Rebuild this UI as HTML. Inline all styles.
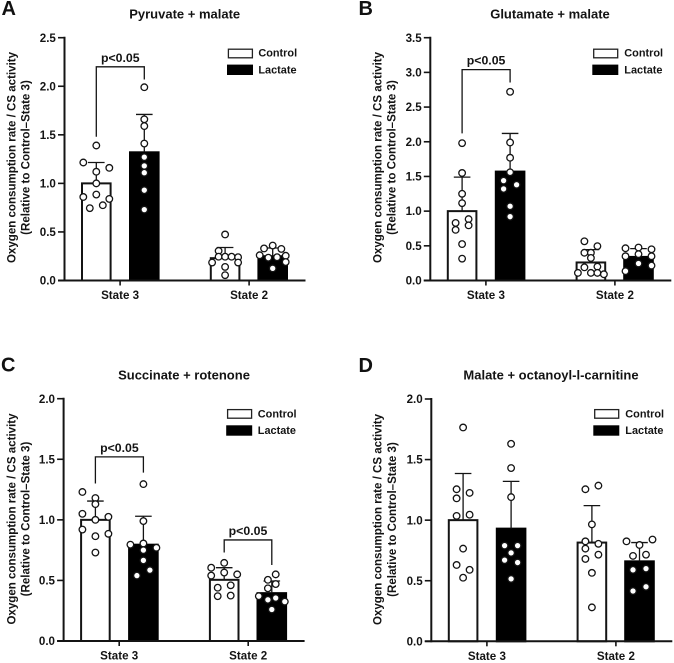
<!DOCTYPE html>
<html lang="en">
<head>
<meta charset="utf-8">
<title>Oxygen consumption rate panels</title>
<style>
html,body{margin:0;padding:0;background:#fff;width:674px;height:663px;overflow:hidden}
svg{display:block;filter:blur(0.35px)}
text{font-family:"Liberation Sans",sans-serif;font-weight:700;fill:#141414}
.letter{font-size:20px;fill:#111}
.title{font-size:13px;text-anchor:middle}
.ytitle{font-size:11.55px;text-anchor:middle}
.legend{font-size:10.9px}
.tick{font-size:11.6px;text-anchor:end}
.cat{font-size:11.6px;text-anchor:middle}
.sig{font-size:12.3px;text-anchor:middle}
</style>
</head>
<body>
<svg id="figure" width="674" height="663" viewBox="0 0 674 663" xmlns="http://www.w3.org/2000/svg">
  <g id="panel-a">
    <text class="letter" x="1.5" y="15">A</text>
    <text class="title" x="184.7" y="18.4">Pyruvate + malate</text>
    <text class="ytitle" transform="translate(15.7,157.5) rotate(-90)">Oxygen consumption rate / CS activity</text>
    <text class="ytitle" transform="translate(29.5,157.5) rotate(-90)">(Relative to Control–State 3)</text>
    <rect x="228.4" y="49.2" width="24" height="8.6" fill="#fff" stroke="#222" stroke-width="1.3"/>
    <text class="legend" x="258.4" y="56.6">Control</text>
    <rect x="227" y="64.6" width="26" height="10.4" fill="#000"/>
    <text class="legend" x="258.4" y="73.6">Lactate</text>
  </g>
  <g id="panel-b">
    <text class="letter" x="358.5" y="15">B</text>
    <text class="title" x="550" y="18.4">Glutamate + malate</text>
    <text class="ytitle" transform="translate(381.7,157.5) rotate(-90)">Oxygen consumption rate / CS activity</text>
    <text class="ytitle" transform="translate(395.5,157.5) rotate(-90)">(Relative to Control–State 3)</text>
    <rect x="593.7" y="49.2" width="24" height="8.6" fill="#fff" stroke="#222" stroke-width="1.3"/>
    <text class="legend" x="624.3" y="56.6">Control</text>
    <rect x="592.3" y="64.6" width="26" height="10.4" fill="#000"/>
    <text class="legend" x="624.3" y="73.6">Lactate</text>
  </g>
  <g id="panel-c">
    <text class="letter" x="1" y="371.7">C</text>
    <text class="title" x="184" y="379.4">Succinate + rotenone</text>
    <text class="ytitle" transform="translate(15.7,519) rotate(-90)">Oxygen consumption rate / CS activity</text>
    <text class="ytitle" transform="translate(29.5,519) rotate(-90)">(Relative to Control–State 3)</text>
    <rect x="227.6" y="409.6" width="24" height="8.6" fill="#fff" stroke="#222" stroke-width="1.3"/>
    <text class="legend" x="257.8" y="417.4">Control</text>
    <rect x="226.2" y="425.3" width="26" height="10.4" fill="#000"/>
    <text class="legend" x="257.8" y="434.2">Lactate</text>
  </g>
  <g id="panel-d">
    <text class="letter" x="358.5" y="372">D</text>
    <text class="title" x="551" y="379.4">Malate + octanoyl-l-carnitine</text>
    <text class="ytitle" transform="translate(381.7,519.5) rotate(-90)">Oxygen consumption rate / CS activity</text>
    <text class="ytitle" transform="translate(396,519.5) rotate(-90)">(Relative to Control–State 3)</text>
    <rect x="594.7" y="409.6" width="24" height="8.6" fill="#fff" stroke="#222" stroke-width="1.3"/>
    <text class="legend" x="625.3" y="417.4">Control</text>
    <rect x="593.3" y="425.3" width="26" height="10.4" fill="#000"/>
    <text class="legend" x="625.3" y="434.2">Lactate</text>
  </g>
</svg>
<script>
// Shared categories and tick labels
const categories = ['State 3', 'State 2'];
const groups = ['control', 'lactate'];
const ticksA = ['0.0', '0.5', '1.0', '1.5', '2.0', '2.5'];
const ticksB = ['0.0', '0.5', '1.0', '1.5', '2.0', '2.5', '3.0', '3.5'];
const ticksC = ['0.0', '0.5', '1.0', '1.5', '2.0'];
const ticksD = ['0.0', '0.5', '1.0', '1.5', '2.0'];

// Bar heights and upper error-bar values, in the order
// State 3 control, State 3 lactate, State 2 control, State 2 lactate
const meansA = [1.0, 1.32, 0.23, 0.25];
const errorTopsA = [1.215, 1.71, 0.34, 0.335];
const meansB = [1.0, 1.57, 0.26, 0.34];
const errorTopsB = [1.49, 2.12, 0.445, 0.46];
const meansC = [1.0, 0.795, 0.505, 0.395];
const errorTopsC = [1.155, 1.03, 0.605, 0.495];
const meansD = [1.0, 0.93, 0.815, 0.66];
const errorTopsD = [1.385, 1.32, 1.12, 0.815];

// Individual measurements, with the swarm column each one sits in
const pointsA1 = [1.39, 1.215, 1.16, 1.12, 1.0, 0.885, 0.86, 0.84, 0.775, 0.745];
const columnsA1 = [0, -2, 2, 0, 0, 0, -2, 2, 1, -1];
const pointsA2 = [1.99, 1.66, 1.59, 1.41, 1.27, 1.18, 1.11, 0.93, 0.73];
const columnsA2 = [0, 0, 0, 0, 0, 0, 0, 0, 0];
const pointsA3 = [0.474, 0.305, 0.245, 0.245, 0.245, 0.24, 0.185, 0.185, 0.14, 0.055];
const columnsA3 = [0, -1, -1, 0, 1, 2, -2, 2, 0, 0];
const pointsA4 = [0.36, 0.33, 0.325, 0.26, 0.255, 0.235, 0.24, 0.19, 0.125];
const columnsA4 = [0, -1.33, 1.33, -2, 2, -0.67, 0.67, 2, 0];

const pointsB1 = [1.98, 1.55, 1.25, 1.115, 0.885, 0.83, 0.795, 0.73, 0.525, 0.315];
const columnsB1 = [0, 0, 0, 0, 1, -1, 1, -1, 0, 0];
const pointsB2 = [2.72, 1.99, 1.77, 1.56, 1.44, 1.38, 1.32, 1.07, 0.92];
const columnsB2 = [0, 0, 0, 0, -1, 1, -1, 0, 0];
const pointsB3 = [0.565, 0.495, 0.4, 0.4, 0.325, 0.19, 0.2, 0.11, 0.11, 0.11, 0.09];
const columnsB3 = [-1, 1, -1, 0, 0, -1, 1, -2, 0, 1, 2];
const pointsB4 = [0.465, 0.475, 0.45, 0.35, 0.38, 0.35, 0.245, 0.215, 0.135];
const columnsB4 = [-2, 0, 2, -2, 0, 2, 0, 2, -2];

const pointsC1 = [1.23, 1.18, 1.13, 1.05, 1.025, 1.0, 0.92, 0.885, 0.865, 0.73];
const columnsC1 = [-2, 0, 0, -2, 2, 0, -2, 2, 0, 0];
const pointsC2 = [1.295, 0.99, 0.805, 0.795, 0.77, 0.75, 0.665, 0.585, 0.54];
const columnsC2 = [0, 0, 0, -2, 2, 0, 0, 1, -1];
const pointsC3 = [0.645, 0.605, 0.565, 0.55, 0.54, 0.46, 0.44, 0.375, 0.37];
const columnsC3 = [0, -2, 0, 2, -2, 1, -1, 1, -1];
const pointsC4 = [0.55, 0.505, 0.47, 0.435, 0.37, 0.355, 0.34, 0.325, 0.26];
const columnsC4 = [0.6, -0.6, 0.6, -0.6, -2, 0.6, -0.6, 2, 0];

const pointsD1 = [1.765, 1.255, 1.18, 1.225, 1.035, 1.045, 0.765, 0.63, 0.59, 0.525];
const columnsD1 = [0, -1, -1, 1, -1, 1, 0, -1, 1, 0];
const pointsD2 = [1.63, 1.43, 1.19, 0.79, 0.79, 0.73, 0.67, 0.65, 0.515];
const columnsD2 = [0, 0, 0, -1, 1, 0, -1, 1, 0];
const pointsD3 = [1.255, 1.285, 0.965, 0.825, 0.805, 0.765, 0.715, 0.68, 0.565, 0.28];
const columnsD3 = [-1, 1, 0, -1, 1, -1, 1, -1, 0, 0];
const pointsD4 = [0.825, 0.84, 0.795, 0.705, 0.715, 0.59, 0.6, 0.45, 0.415];
const columnsD4 = [-2, 2, 0, -1, 1, -1, 1, 1, -1];

// Significance brackets: bar index on the left, top value, left and right leg ends
const sigBarsA = [0];
const sigTopsA = [2.2];
const sigLeftEndsA = [1.48];
const sigRightEndsA = [2.07];
const sigBarsB = [0];
const sigTopsB = [3.04];
const sigLeftEndsB = [2.12];
const sigRightEndsB = [2.855];
const sigBarsC = [0, 2];
const sigTopsC = [1.52, 0.834];
const sigLeftEndsC = [1.30, 0.73];
const sigRightEndsC = [1.39, 0.627];
const sigLabel = 'p<0.05';

const NS = 'http://www.w3.org/2000/svg';
const BAR_W = 30.6;
const BAR_STARTS = [16.5, 64.5, 145.3, 192.9];
const CAT_CENTERS = [55.6, 184.6];
const AXIS_LEN = 241;
const SLOT = 6.5;
const INK = '#141414';

function make(parent, tag, attrs, text) {
  const el = document.createElementNS(NS, tag);
  for (const k in attrs) el.setAttribute(k, attrs[k]);
  if (text !== undefined) el.textContent = text;
  parent.appendChild(el);
  return el;
}

function drawPanel(id, key, frame, ticks, means, errorTops, pointSets, columnSets, sig) {
  const root = document.getElementById(id);
  const yMax = parseFloat(ticks[ticks.length - 1]);
  const yScale = v => frame.y0 - (v / yMax) * (frame.y0 - frame.top);
  const barX = i => frame.x + BAR_STARTS[i];
  const barC = i => barX(i) + BAR_W / 2;

  means.forEach((m, i) => {
    const isLactate = i % 2 === 1;
    const bar = make(root, 'rect', {
      x: barX(i) + 1, y: yScale(m), width: BAR_W - 2, height: frame.y0 - yScale(m),
      fill: isLactate ? '#000' : '#fff', stroke: isLactate ? '#000' : INK, 'stroke-width': 2
    });
    
    

    const err = make(root, 'path', {
      d: 'M' + barC(i) + ' ' + yScale(m) + 'V' + yScale(errorTops[i]) +
         'M' + (barC(i) - 8.3) + ' ' + yScale(errorTops[i]) + 'H' + (barC(i) + 8.3),
      fill: 'none', stroke: INK, 'stroke-width': 1.3
    });
    
    
  });

  pointSets.forEach((values, i) => {
    values.forEach((v, j) => {
      const dot = make(root, 'circle', {
        cx: barC(i) + columnSets[i][j] * SLOT, cy: yScale(v), r: 3.3,
        fill: '#fff', stroke: INK, 'stroke-width': 1.3
      });
      
      
    });
  });

  const yAxis = make(root, 'line', { x1: frame.x, x2: frame.x, y1: frame.top - 1, y2: frame.y0 + 1, stroke: INK, 'stroke-width': 2 });
  
  
  const xAxis = make(root, 'line', { x1: frame.x - 6.5, x2: frame.x + AXIS_LEN, y1: frame.y0, y2: frame.y0, stroke: INK, 'stroke-width': 2 });
  
  

  ticks.forEach(t => {
    const y = yScale(parseFloat(t));
    const mark = make(root, 'line', { x1: frame.x - 6.5, x2: frame.x, y1: y, y2: y, stroke: INK, 'stroke-width': 1.6 });
    
    
    const label = make(root, 'text', { class: 'tick', x: frame.x - 8.6, y: y + 4.1 }, t);
    
    
  });

  categories.forEach((c, i) => {
    const x = frame.x + CAT_CENTERS[i];
    const mark = make(root, 'line', { x1: x, x2: x, y1: frame.y0, y2: frame.y0 + 5, stroke: INK, 'stroke-width': 1.6 });
    
    
    const label = make(root, 'text', { class: 'cat', x: x, y: frame.y0 + 18.5 }, c);
    
    
  });

  sig.bars.forEach((b, i) => {
    const top = yScale(sig.tops[i]);
    const bracket = make(root, 'path', {
      d: 'M' + barC(b) + ' ' + yScale(sig.leftEnds[i]) + 'V' + top + 'H' + barC(b + 1) + 'V' + yScale(sig.rightEnds[i]),
      fill: 'none', stroke: INK, 'stroke-width': 1.3
    });
    
    
    const label = make(root, 'text', { class: 'sig', x: (barC(b) + barC(b + 1)) / 2, y: top - 5 }, sigLabel);
    
    
  });
}

drawPanel('panel-a', 'panel-a', { x: 64.5, y0: 280.5, top: 37.7 }, ticksA, meansA, errorTopsA,
  [pointsA1, pointsA2, pointsA3, pointsA4], [columnsA1, columnsA2, columnsA3, columnsA4],
  { bars: sigBarsA, tops: sigTopsA, leftEnds: sigLeftEndsA, rightEnds: sigRightEndsA });
drawPanel('panel-b', 'panel-b', { x: 430.3, y0: 280.5, top: 37.7 }, ticksB, meansB, errorTopsB,
  [pointsB1, pointsB2, pointsB3, pointsB4], [columnsB1, columnsB2, columnsB3, columnsB4],
  { bars: sigBarsB, tops: sigTopsB, leftEnds: sigLeftEndsB, rightEnds: sigRightEndsB });
drawPanel('panel-c', 'panel-c', { x: 63.6, y0: 641, top: 398.7 }, ticksC, meansC, errorTopsC,
  [pointsC1, pointsC2, pointsC3, pointsC4], [columnsC1, columnsC2, columnsC3, columnsC4],
  { bars: sigBarsC, tops: sigTopsC, leftEnds: sigLeftEndsC, rightEnds: sigRightEndsC });
drawPanel('panel-d', 'panel-d', { x: 431.3, y0: 641.3, top: 399 }, ticksD, meansD, errorTopsD,
  [pointsD1, pointsD2, pointsD3, pointsD4], [columnsD1, columnsD2, columnsD3, columnsD4],
  { bars: [], tops: [], leftEnds: [], rightEnds: [] });
</script>
</body>
</html>
